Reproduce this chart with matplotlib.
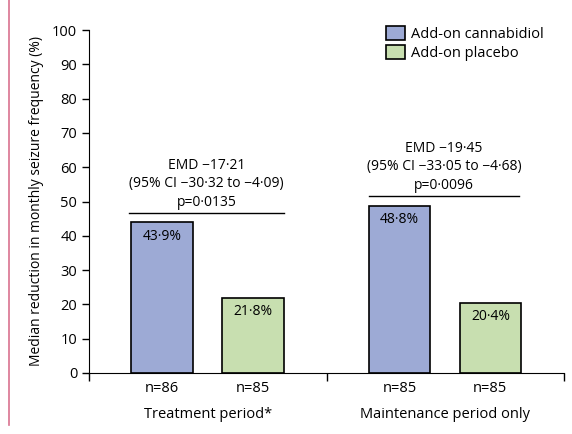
import matplotlib.pyplot as plt
import matplotlib.lines as mlines

plt.rcParams["font.family"] = ["Open Sans", "DejaVu Sans"]

periods = ["Treatment period*", "Maintenance period only"]
cbd_vals = [43.9, 48.8]
pbo_vals = [21.8, 20.4]
cbd_n = ["n=86", "n=85"]
pbo_n = ["n=85", "n=85"]
emd_text = ["EMD \u221217\u00b721\n(95% CI \u221230\u00b732 to \u22124\u00b709)\np=0\u00b70135",
            "EMD \u221219\u00b745\n(95% CI \u221233\u00b705 to \u22124\u00b768)\np=0\u00b70096"]
emd_line_y = [46.6, 51.6]

blue = "#9daad5"
green = "#c8dfb0"

fig = plt.figure(figsize=(5.72, 4.34), dpi=100)
ax = fig.add_axes([89 / 572, 1 - 373 / 434, 475 / 572, 343 / 434])

cbd_x = [0.307, 1.307]
pbo_x = [0.69, 1.69]
w = 0.26
ax.bar(cbd_x, cbd_vals, width=w, color=blue, edgecolor="black", lw=1.2, label="Add-on cannabidiol")
ax.bar(pbo_x, pbo_vals, width=w, color=green, edgecolor="black", lw=1.2, label="Add-on placebo")

for x, v in zip(cbd_x + pbo_x, cbd_vals + pbo_vals):
    ax.text(x, v - 1.8, f"{v:.1f}%".replace(".", "\u00b7"), ha="center", va="top", fontsize=10)

line_x = [(0.17, 0.82), (1.18, 1.81)]
for (x0, x1), y, t in zip(line_x, emd_line_y, emd_text):
    ax.plot([x0, x1], [y, y], color="black", lw=1, clip_on=False)
    ax.text((x0 + x1) / 2, y + 1, t, ha="center", va="bottom", fontsize=10, linespacing=1.3)

for x, t in zip(cbd_x + pbo_x, cbd_n + pbo_n):
    ax.text(x, -2.3, t, ha="center", va="top", fontsize=10.5)
for x, t in zip([0.5, 1.5], periods):
    ax.text(x, -9.8, t, ha="center", va="top", fontsize=10.5)

ax.set_xlim(0, 2)
ax.set_ylim(0, 100)
ax.set_yticks(range(0, 101, 10))
ax.set_xticks([0, 1, 2])
ax.set_xticklabels([])
ax.tick_params(axis="x", direction="out", length=6, width=1)
ax.tick_params(axis="y", direction="out", length=5, width=1, labelsize=10.5)
ax.spines["top"].set_visible(False)
ax.spines["right"].set_visible(False)
ax.set_ylabel("Median reduction in monthly seizure frequency (%)", fontsize=10, labelpad=6)

ax.legend(loc="upper right", bbox_to_anchor=(0.985, 1.05), frameon=False, fontsize=10.5,
          handlelength=1.3, handleheight=1.1, handletextpad=0.4, labelspacing=0.2)

fig.add_artist(mlines.Line2D([9 / 572, 9 / 572], [1 - 425 / 434, 1], color="#d9728f", lw=1.2))

fig.savefig("out.png", dpi=100)
